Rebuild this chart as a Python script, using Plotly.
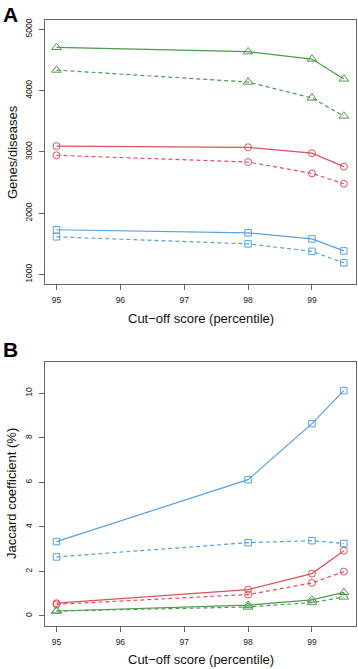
import plotly.graph_objects as go

cutoffs = [95, 98, 99, 99.5]

# Panel A: Genes/diseases
a_green_solid = [4705, 4635, 4515, 4190]
a_green_dash = [4335, 4140, 3880, 3585]
a_red_solid = [3095, 3075, 2980, 2760]
a_red_dash = [2945, 2835, 2650, 2480]
a_blue_solid = [1730, 1680, 1580, 1385]
a_blue_dash = [1615, 1500, 1378, 1190]

# Panel B: Jaccard coefficient (%)
b_blue_solid = [3.34, 6.12, 8.64, 10.12]
b_blue_dash = [2.65, 3.29, 3.38, 3.25]
b_red_solid = [0.57, 1.18, 1.90, 2.93]
b_red_dash = [0.52, 0.96, 1.48, 1.99]
b_green_solid = [0.22, 0.48, 0.72, 1.06]
b_green_dash = [0.22, 0.40, 0.60, 0.85]

x_ticks = [95, 96, 97, 98, 99]
a_y_ticks = [1000, 2000, 3000, 4000, 5000]
b_y_ticks = [0, 2, 4, 6, 8, 10]

GREEN = "#4e9a4e"
RED = "#d9535c"
BLUE = "#5aa0da"

SIZES = {"triangle-up-open": 8.5, "circle-open": 7, "square-open": 6.5}

fig = go.Figure()

def add(y, color, symbol, dash, xa, ya):
    fig.add_trace(go.Scatter(
        x=cutoffs, y=y, mode="lines+markers", xaxis=xa, yaxis=ya,
        line=dict(color=color, width=1.2, dash=dash),
        marker=dict(symbol=symbol, size=SIZES[symbol], color=color, line=dict(color=color, width=1)),
        showlegend=False, hoverinfo="skip"))

add(a_green_solid, GREEN, "triangle-up-open", "solid", "x", "y")
add(a_green_dash, GREEN, "triangle-up-open", "4px,3px", "x", "y")
add(a_red_solid, RED, "circle-open", "solid", "x", "y")
add(a_red_dash, RED, "circle-open", "4px,3px", "x", "y")
add(a_blue_solid, BLUE, "square-open", "solid", "x", "y")
add(a_blue_dash, BLUE, "square-open", "4px,3px", "x", "y")

add(b_blue_solid, BLUE, "square-open", "solid", "x2", "y2")
add(b_blue_dash, BLUE, "square-open", "4px,3px", "x2", "y2")
add(b_red_solid, RED, "circle-open", "solid", "x2", "y2")
add(b_red_dash, RED, "circle-open", "4px,3px", "x2", "y2")
add(b_green_solid, GREEN, "triangle-up-open", "solid", "x2", "y2")
add(b_green_dash, GREEN, "triangle-up-open", "4px,3px", "x2", "y2")

W, H = 358, 669
xdom = [45 / W, 356 / W]
ydomA = [1 - 284 / H, 1 - 19.5 / H]
ydomB = [1 - 625.7 / H, 1 - 361.7 / H]

axis_common = dict(
    showline=True, linecolor="#666666", linewidth=1, mirror=True,
    ticks="outside", ticklen=5, tickcolor="#666666", tickwidth=1,
    showgrid=False, zeroline=False,
    tickfont=dict(family="Liberation Sans, Arial", size=8.5, color="#222222"),
)

fig.update_layout(
    width=W, height=H,
    margin=dict(l=0, r=0, t=0, b=0),
    paper_bgcolor="white", plot_bgcolor="white",
    xaxis=dict(domain=xdom, range=[94.82, 99.69], tickvals=x_ticks, anchor="y",
               ticklabelstandoff=3, **axis_common),
    yaxis=dict(domain=ydomA, range=[845, 5160], tickvals=a_y_ticks, tickangle=-90, anchor="x",
               ticklabelstandoff=4, **axis_common),
    xaxis2=dict(domain=xdom, range=[94.82, 99.69], tickvals=x_ticks, anchor="y2",
                ticklabelstandoff=3, **axis_common),
    yaxis2=dict(domain=ydomB, range=[-0.44, 11.42], tickvals=b_y_ticks, tickangle=-90, anchor="x2",
                ticklabelstandoff=4, **axis_common),
)

title_font = dict(family="Liberation Sans, Arial", size=13, color="#111111")
annots = [
    dict(text="<b>A</b>", x=1 / W, y=1 - 1 / H, xanchor="left", yanchor="top",
         font=dict(family="Liberation Sans, Arial", size=21, color="black")),
    dict(text="<b>B</b>", x=1 / W, y=1 - 336 / H, xanchor="left", yanchor="top",
         font=dict(family="Liberation Sans, Arial", size=21, color="black")),
    dict(text="Cut\u2212off score (percentile)", x=(45 + 356) / 2 / W, y=1 - 318 / H,
         xanchor="center", yanchor="middle", font=title_font),
    dict(text="Cut\u2212off score (percentile)", x=(45 + 356) / 2 / W, y=1 - 659 / H,
         xanchor="center", yanchor="middle", font=title_font),
    dict(text="Genes/diseases", x=12 / W, y=1 - 152 / H, textangle=-90,
         xanchor="center", yanchor="middle", font=title_font),
    dict(text="Jaccard coefficient (%)", x=12 / W, y=1 - 494 / H, textangle=-90,
         xanchor="center", yanchor="middle", font=title_font),
]
for a in annots:
    fig.add_annotation(xref="paper", yref="paper", showarrow=False, **a)

fig.write_html(
    "out.html",
    config={"displayModeBar": False},
    post_script="document.body.style.margin='0';document.body.style.padding='0';document.body.style.overflow='hidden';",
)
